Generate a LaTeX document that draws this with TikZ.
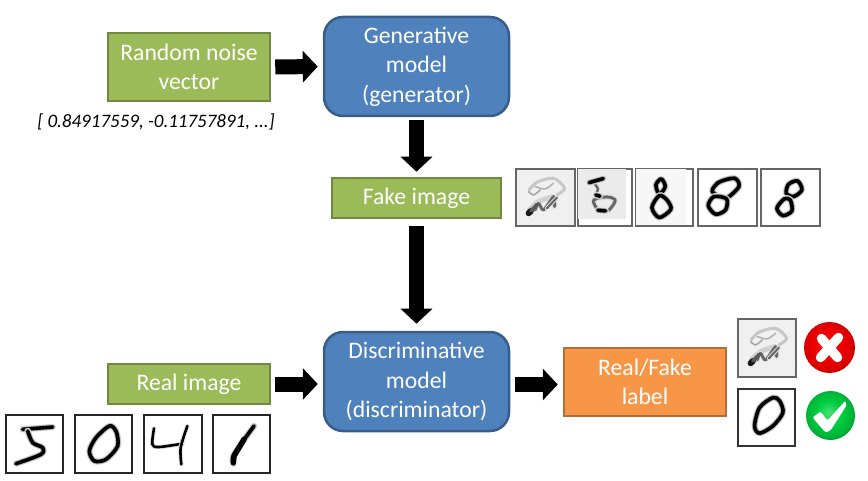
\documentclass[tikz,border=0pt]{standalone}
\usepackage{fontspec}
\setmainfont{Carlito}
\usetikzlibrary{arrows.meta,calc}
\definecolor{boxgreen}{HTML}{9BBB59}
\definecolor{boxgreenline}{HTML}{71893F}
\definecolor{boxblue}{HTML}{4F81BD}
\definecolor{boxblueline}{HTML}{385D8A}
\definecolor{boxorange}{HTML}{F79646}
\definecolor{boxorangeline}{HTML}{B66D31}
\definecolor{ballgreen}{HTML}{00D040}
\pgfdeclareradialshading{redball}{\pgfpoint{-3bp}{3bp}}{color(0bp)=(red!92!white);color(12bp)=(red!95!black);color(24bp)=(red!85!black);color(30bp)=(red!65!black);color(50bp)=(red!50!black)}
\pgfdeclareradialshading{greenball}{\pgfpoint{-2bp}{3bp}}{color(0bp)=(ballgreen!70!white);color(12bp)=(ballgreen);color(24bp)=(ballgreen!85!black);color(29bp)=(ballgreen!65!black);color(50bp)=(ballgreen!50!black)}
\newcommand{\digitstroke}[1]{
	\draw[gray!20,line width=6.6,line cap=round,line join=round] #1;
	\draw[gray!65,line width=5.2,line cap=round,line join=round] #1;
	\draw[black,line width=3.6,line cap=round,line join=round] #1;
}
\newcommand{\thinstroke}[1]{
	\draw[gray!25,line width=4.4,line cap=round,line join=round] #1;
	\draw[black,line width=2.6,line cap=round,line join=round] #1;
}
\newcommand{\softstroke}[2]{
	\draw[gray!25,line width=#1+2,line cap=round,line join=round] #2;
	\draw[black!60,line width=#1,line cap=round,line join=round] #2;
}
\newcommand{\noiseblob}{
	\draw[black!22,line width=3,line cap=round] plot[smooth] coordinates {(42,65) (65,42) (115,30) (148,60) (125,80)};
	\draw[black!30,line width=1.6,line cap=round] plot[smooth] coordinates {(60,55) (90,62) (115,45)};
	\draw[black!35,line width=1.6,line cap=round] plot[smooth] coordinates {(40,70) (55,80) (75,65)};
	\draw[black!18,line width=5,line cap=round] plot[smooth] coordinates {(42,125) (70,100) (112,85)};
	\softstroke{2.8}{plot[smooth] coordinates {(60,125) (70,105) (85,125) (115,85) (118,115)}}
	\softstroke{2}{(95,120) -- (125,88)}
	\draw[black!90,line width=6,line cap=round] (40,135) -- (47,128);
	\draw[black!65,line width=3.6,line cap=round] (47,128) -- (66,108);
}
\begin{document}
\begin{tikzpicture}[x=1pt,y=-1pt]

	\tikzset{
		greenbox/.style={draw=boxgreenline,fill=boxgreen,line width=2.5,text=white,font=\fontsize{23.7}{29.5}\selectfont,align=center,inner sep=0pt},
		bluebox/.style={draw=boxblueline,fill=boxblue,line width=2.5,rounded corners=19,text=white,font=\fontsize{23.7}{29.5}\selectfont,align=center,inner sep=0pt,minimum width=185,minimum height=99},
		digitbox/.style={draw=black!85,line width=1.3,fill=white,inner sep=0pt},
		fakebox/.style={draw=black!60,line width=1.5,fill=white,inner sep=0pt},
		bigarrow/.style={line width=15,-{Triangle[length=15,width=31]},black},
	}
	\useasboundingbox (0,0) rectangle (868,481);

	\node[greenbox,minimum width=162,minimum height=68] (noise) at (189,67) {Random noise\\vector};
	\node[bluebox] (gen) at (416.5,66.5) {Generative\\model\\(generator)};
	\node[greenbox,minimum width=169,minimum height=40] (fake) at (416.5,198) {Fake image};
	\node[greenbox,minimum width=162,minimum height=40] (real) at (189,384) {Real image};
	\node[bluebox] (disc) at (416.5,381.5) {Discriminative\\model\\(discriminator)};
	\node[draw=boxorangeline,fill=boxorange,line width=2.5,text=white,font=\fontsize{23.7}{29.5}\selectfont,align=center,inner sep=0pt,minimum width=162,minimum height=68] (label) at (645,382) {Real/Fake\\label};
	\node[anchor=center,font=\fontsize{19}{22}\itshape] (vec) at (156,121.5) {[ 0.84917559, -0.11757891, ...]};

	\draw[bigarrow,shorten <=4pt,shorten >=5pt] (noise.east) -- (gen.west);
	\draw[bigarrow,shorten <=3pt,shorten >=5pt] (gen.south) -- (fake.north);
	\draw[bigarrow,shorten <=7pt,shorten >=7pt] (fake.south) -- (disc.north);
	\draw[bigarrow,shorten <=4pt,shorten >=5pt] (real.east) -- (real.east -| disc.west);
	\draw[bigarrow,shorten <=5pt,shorten >=5pt] ($(disc.east)+(0,3)$) -- ($(label.west)+(0,2.5)$);

	% fake images
	\node[fakebox,minimum width=59,minimum height=57,fill=black!6] (fakeA) at (545.5,197.5) {};
	\node[fakebox,minimum width=54,minimum height=57] (fakeB) at (605,197.5) {};
	\node[fakebox,minimum width=57,minimum height=57] (fakeC) at (664.5,197.5) {};
	\node[fakebox,minimum width=59,minimum height=57] (fakeD) at (727.5,197.5) {};
	\node[fakebox,minimum width=59,minimum height=57] (fakeE) at (790.5,197.5) {};
	\begin{scope}[shift={(fakeA.north west)},scale=1/3]
		\noiseblob
	\end{scope}
	\begin{scope}[shift={(fakeB.north west)},scale=1/3]
		\fill[black!8] (3,3) rectangle (145,152);
		\softstroke{2.4}{plot[smooth] coordinates {(50,45) (62,62) (52,85)}}
		\softstroke{3}{plot[smooth cycle] coordinates {(49,96) (64,126) (94,126) (114,96) (89,86)}}
		\digitstroke{(36,43) -- (78,31)}
		\digitstroke{(56,80) -- (68,84)}
		\digitstroke{(62,126) -- (85,128)}
	\end{scope}
	\begin{scope}[shift={(fakeC.north west)},scale=1/3]
		\fill[black!3] (3,3) rectangle (152,170);
		\digitstroke{plot[smooth cycle] coordinates {(78,32) (62,50) (72,78) (90,55)}}
		\digitstroke{plot[smooth cycle] coordinates {(72,82) (50,118) (72,148) (107,123) (95,95)}}
	\end{scope}
	\begin{scope}[shift={(fakeD.north west)},scale=1/3]
		\digitstroke{plot[smooth cycle] coordinates {(112,30) (65,42) (45,70) (85,90) (125,55)}}
		\digitstroke{plot[smooth cycle] coordinates {(50,85) (33,112) (55,138) (85,125) (88,92)}}
		\draw[black,line width=1.5] (60,40) -- (45,70);
	\end{scope}
	\begin{scope}[shift={(fakeE.north west)},scale=1/3]
		\digitstroke{plot[smooth cycle] coordinates {(112,38) (85,48) (78,75) (100,85) (125,65)}}
		\digitstroke{plot[smooth cycle] coordinates {(72,92) (50,120) (68,142) (95,128) (90,95)}}
	\end{scope}

	% real images
	\node[digitbox,minimum width=57,minimum height=58] (realA) at (34.5,444) {};
	\node[digitbox,minimum width=57,minimum height=58] (realB) at (103.5,444) {};
	\node[digitbox,minimum width=58,minimum height=58] (realC) at (173,444) {};
	\node[digitbox,minimum width=57,minimum height=58] (realD) at (241.5,444) {};
	\begin{scope}[shift={(realA.north west)},scale=1/3]
		\digitstroke{(52,45) -- (142,38)}
		\digitstroke{plot[smooth] coordinates {(67,50) (82,85) (112,100) (107,120) (32,148)}}
	\end{scope}
	\begin{scope}[shift={(realB.north west)},scale=1/3]
		\digitstroke{plot[smooth cycle] coordinates {(105,35) (65,70) (45,110) (60,140) (95,135) (130,95) (125,50)}}
	\end{scope}
	\begin{scope}[shift={(realC.north west)},scale=1/3]
		\thinstroke{plot[smooth] coordinates {(32,42) (27,90) (47,98) (117,88)}}
		\thinstroke{plot[smooth] coordinates {(132,35) (112,100) (114,150)}}
	\end{scope}
	\begin{scope}[shift={(realD.north west)},scale=1/3]
		\digitstroke{plot[smooth] coordinates {(125,35) (65,120) (63,148)}}
		\draw[black,line width=5.5,line cap=round] (95,75) -- (65,125) -- (63,145);
	\end{scope}

	% result images and marks
	\node[fakebox,minimum width=58,minimum height=58,fill=black!6] (resA) at (767,348) {};
	\node[fakebox,draw=black!80,minimum width=57,minimum height=57] (resB) at (766.5,417.5) {};
	\begin{scope}[shift={(resA.north west)},scale=1/3]
		\noiseblob
	\end{scope}
	\begin{scope}[shift={(resB.north west)},scale=1/3]
		\digitstroke{plot[smooth cycle] coordinates {(107,28) (67,58) (52,113) (67,135) (107,113) (137,73) (127,38)}}
	\end{scope}
	\node[circle,minimum size=51,inner sep=0pt,shading=redball] (wrong) at (829.5,347.5) {};
	\node[circle,minimum size=49,inner sep=0pt,shading=greenball] (right) at (830.5,415.5) {};
	\draw[white,line width=9.5,line cap=round] ($(wrong)+(-8,-9)$) -- ($(wrong)+(8,10)$);
	\draw[white,line width=9.5,line cap=round] ($(wrong)+(9,-10)$) -- ($(wrong)+(-9,10)$);
	\fill[white,rounded corners=1.5] ($(right)+(-18,2)$) -- ($(right)+(-10,-4)$) -- ($(right)+(-3,5)$) -- ($(right)+(15,-15)$) -- ($(right)+(16,-10)$) -- ($(right)+(0,15)$) -- ($(right)+(-5,17)$) -- cycle;

\end{tikzpicture}
\end{document}
